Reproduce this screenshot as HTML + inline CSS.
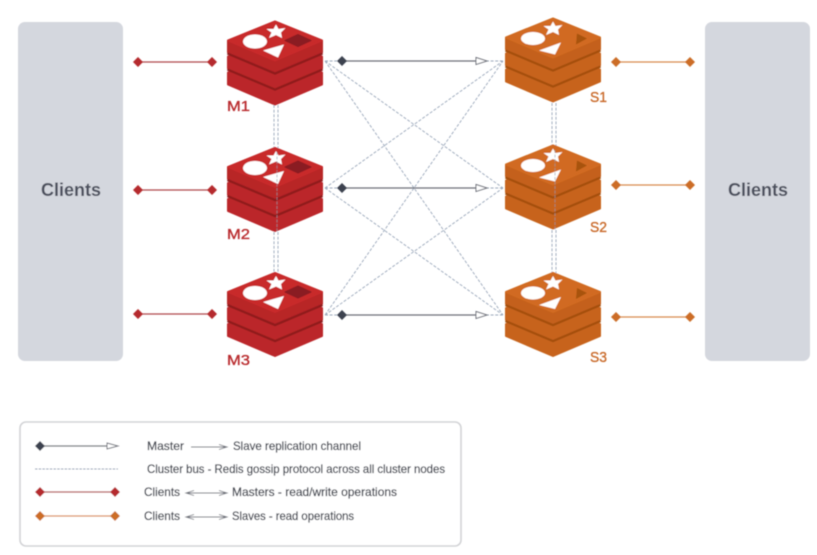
<!DOCTYPE html>
<html><head><meta charset="utf-8"><style>html,body{margin:0;padding:0;background:#fff;width:817px;height:555px;overflow:hidden}svg{display:block;font-family:"Liberation Sans",sans-serif}</style></head>
<body>
<svg width="817" height="555" viewBox="0 0 817 555" xmlns="http://www.w3.org/2000/svg">
<defs>
<filter id="b" x="0" y="0" width="100%" height="100%" filterUnits="userSpaceOnUse" primitiveUnits="userSpaceOnUse"><feGaussianBlur stdDeviation="0.45"/></filter>
<path id="slab" d="M-47,19 L0,0 L47,19 L47,31 L0,51 L-47,31Z" stroke-linejoin="round" stroke-width="2"/>
<path id="edge" d="M-47.5,32 L0,52 L47.5,32" fill="none" stroke-width="2.2"/>
<path id="face" d="M-47,19 L0,0 L47,19 L0,39Z" stroke-linejoin="round" stroke-width="2"/>
<path id="star" d="M0,-7 L2.5,-2.5 L9.5,-3.5 L5,1 L6,6.5 L0,3.5 L-7,6.5 L-4.5,1 L-9.5,-2.5 L-2.5,-2.5Z" fill="#fff"/>
<g id="rl">
<use href="#slab" y="32" fill="#bb2629" stroke="#bb2629"/>
<use href="#edge" y="16" stroke="#8f1a1c"/>
<use href="#slab" y="16" fill="#bb2629" stroke="#bb2629"/>
<use href="#edge" y="0" stroke="#8f1a1c"/>
<use href="#edge" y="16" stroke="#8f1a1c"/>
<use href="#slab" fill="#b82528" stroke="#b82528"/>
<use href="#edge" stroke="#8f1a1c"/>
<use href="#face" fill="#c8292c" stroke="#c8292c"/>
<ellipse cx="-20" cy="20" rx="12" ry="7" fill="#fff"/>
<use href="#star" x="1" y="10"/>
<path d="M-12,29 L9,23 L3,36Z" fill="#fff"/>
<path d="M10,19 L23,13 L36,19 L23,25Z" fill="#8a1c20" stroke="#8a1c20" stroke-linejoin="round"/>
</g>
<g id="ol">
<use href="#slab" y="32" fill="#c7631d" stroke="#c7631d"/>
<use href="#edge" y="16" stroke="#a5500f"/>
<use href="#slab" y="16" fill="#c7631d" stroke="#c7631d"/>
<use href="#edge" y="0" stroke="#a5500f"/>
<use href="#edge" y="16" stroke="#a5500f"/>
<use href="#slab" fill="#c4611c" stroke="#c4611c"/>
<use href="#edge" stroke="#a5500f"/>
<use href="#face" fill="#d16b20" stroke="#d16b20"/>
<ellipse cx="-20" cy="20" rx="12" ry="6.5" fill="#fff"/>
<use href="#star" x="0" y="10"/>
<path d="M-14,32 L8,24 L2,36Z" fill="#fff"/>
<path d="M24,15 L34,20 L23,26Z" fill="#a8530f"/>
</g>
<path id="dk" d="M0,-5 L5,0 L0,5 L-5,0Z"/>
</defs>
<g filter="url(#b)">
<rect x="18" y="22" width="105" height="339" rx="7" fill="#d4d7de"/>
<rect x="705" y="22" width="105" height="339" rx="7" fill="#d4d7de"/>
<text x="71" y="196" text-anchor="middle" font-size="18" font-weight="bold" fill="#4b505d" textLength="60" lengthAdjust="spacingAndGlyphs">Clients</text>
<text x="758" y="196" text-anchor="middle" font-size="18" font-weight="bold" fill="#4b505d" textLength="60" lengthAdjust="spacingAndGlyphs">Clients</text>

<g stroke="#9aa7ba" stroke-width="0.9" stroke-dasharray="3 1.6" fill="none">
<path d="M325,61 L503,61 M325,188 L503,188 M325,315 L503,315 M325,61 L503,188 M325,61 L503,315 M325,188 L503,61 M325,188 L503,315 M325,315 L503,61 M325,315 L503,188"/>
<path d="M274,105 V148 M278,105 V148 M274,232 V273 M278,232 V273 M552,103 V146 M556,103 V146 M552,230 V273 M556,230 V273"/>
</g>

<use href="#rl" x="275" y="21.5"/>
<use href="#rl" x="275" y="148"/>
<use href="#rl" x="275" y="273"/>
<use href="#ol" x="553" y="18.5"/>
<use href="#ol" x="553" y="145.5"/>
<use href="#ol" x="553" y="273"/>
<path d="M277,152 V232" stroke="#8d98a8" stroke-width="1" stroke-dasharray="3 1.5" opacity="0.6"/>
<path d="M555,150 V230" stroke="#8d98a8" stroke-width="1" stroke-dasharray="3 1.5" opacity="0.6"/>

<g font-size="15" stroke-width="0.35">
<g fill="#b92c2e" stroke="#b92c2e">
<text x="227" y="111" textLength="23" lengthAdjust="spacingAndGlyphs">M1</text><text x="227" y="239" textLength="23" lengthAdjust="spacingAndGlyphs">M2</text><text x="227" y="365" textLength="23" lengthAdjust="spacingAndGlyphs">M3</text>
</g>
<g fill="#c96a2a" stroke="#c96a2a">
<text x="590" y="102" textLength="17" lengthAdjust="spacingAndGlyphs">S1</text><text x="590" y="232" textLength="17" lengthAdjust="spacingAndGlyphs">S2</text><text x="590" y="362" textLength="17" lengthAdjust="spacingAndGlyphs">S3</text>
</g>
</g>

<g stroke="#6d7079" stroke-width="1.3">
<path d="M342,61 H476 M342,188 H476 M342,315 H476"/>
</g>
<g fill="#fff" stroke="#6d7079" stroke-width="1">
<path d="M476,57.5 L487,61 L476,64.5Z"/><path d="M476,184.5 L487,188 L476,191.5Z"/><path d="M476,311.5 L487,315 L476,318.5Z"/>
</g>
<g fill="#3d4250"><use href="#dk" x="342" y="61"/><use href="#dk" x="342" y="188"/><use href="#dk" x="342" y="315"/></g>

<g stroke="#b04a4c" stroke-width="1.3"><path d="M138,62 H212 M138,190 H212 M138,314 H212"/></g>
<g fill="#b52a2d">
<use href="#dk" x="138" y="62"/><use href="#dk" x="212" y="62"/><use href="#dk" x="138" y="190"/><use href="#dk" x="212" y="190"/><use href="#dk" x="138" y="314"/><use href="#dk" x="212" y="314"/>
</g>
<g stroke="#d98a50" stroke-width="1.3"><path d="M616,62 H690 M616,185 H690 M616,317 H690"/></g>
<g fill="#cc6d28">
<use href="#dk" x="616" y="62"/><use href="#dk" x="690" y="62"/><use href="#dk" x="616" y="185"/><use href="#dk" x="690" y="185"/><use href="#dk" x="616" y="317"/><use href="#dk" x="690" y="317"/>
</g>

<rect x="20" y="422" width="441" height="124" rx="6" fill="#fff" stroke="#d2d3d6" stroke-width="1.6"/>
<path d="M40,446 H107" stroke="#6d7079" stroke-width="1.2"/><path d="M107,443 L118,446 L107,449Z" fill="#fff" stroke="#6d7079"/>
<use href="#dk" x="40" y="446" fill="#3d4250"/>
<path d="M35,469 H118" stroke="#8d9cb3" stroke-width="0.9" stroke-dasharray="2.5 1.2"/>
<path d="M40,492 H115" stroke="#b04a4c" stroke-width="1.2"/><use href="#dk" x="40" y="492" fill="#b52a2d"/><use href="#dk" x="115" y="492" fill="#b52a2d"/>
<path d="M40,516 H115" stroke="#d98a50" stroke-width="1.2"/><use href="#dk" x="40" y="516" fill="#cc6d28"/><use href="#dk" x="115" y="516" fill="#cc6d28"/>

<g font-size="12" fill="#3f434e" stroke="#3f434e" stroke-width="0.25">
<text x="147" y="450" textLength="37" lengthAdjust="spacingAndGlyphs">Master</text>
<text x="233" y="450" textLength="128" lengthAdjust="spacingAndGlyphs">Slave replication channel</text>
<text x="147" y="473" textLength="298" lengthAdjust="spacingAndGlyphs">Cluster bus - Redis gossip protocol across all cluster nodes</text>
<text x="144" y="496" textLength="36" lengthAdjust="spacingAndGlyphs">Clients</text>
<text x="232" y="496" textLength="165" lengthAdjust="spacingAndGlyphs">Masters - read/write operations</text>
<text x="144" y="520" textLength="36" lengthAdjust="spacingAndGlyphs">Clients</text>
<text x="232" y="520" textLength="122" lengthAdjust="spacingAndGlyphs">Slaves - read operations</text>
</g>
<g stroke="#6d7079" stroke-width="0.9" fill="none">
<path d="M191,447 H226 M219,444.5 L227,447 L219,449.5"/>
<path d="M186,493 H226 M194,490.5 L186,493 L194,495.5 M219,490.5 L227,493 L219,495.5"/>
<path d="M186,517 H226 M194,514.5 L186,517 L194,519.5 M219,514.5 L227,517 L219,519.5"/>
</g>
</g>
</svg>
</body></html>
